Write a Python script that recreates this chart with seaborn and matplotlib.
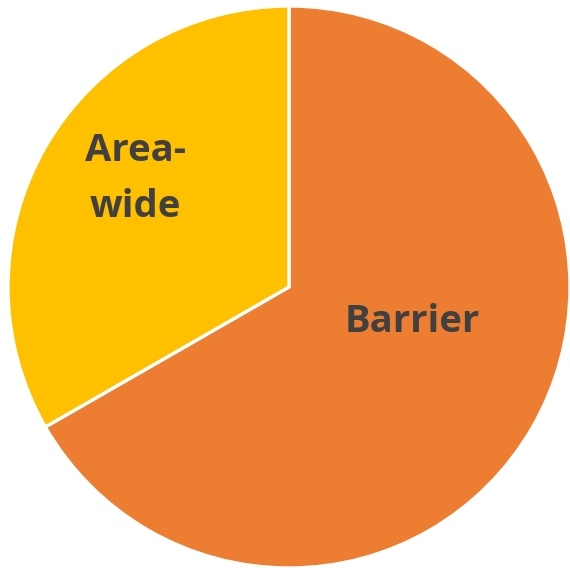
import matplotlib
matplotlib.use("Agg")
import matplotlib.pyplot as plt
import seaborn as sns

sns.set_theme(style="white")
plt.rcParams['font.family'] = ['Open Sans', 'DejaVu Sans']

categories = ["Barrier", "Area-wide"]
shares = [66.7, 33.3]
colors = ["#ED7D31", "#FFC000"]
label_text = ["Barrier", "Area-\nwide"]

fig = plt.figure(figsize=(5.70, 5.68), dpi=100)
ax = fig.add_axes([0, 0, 1, 1])
ax.pie(shares, colors=colors, startangle=90, counterclock=False,
       wedgeprops=dict(edgecolor="white", linewidth=2.4))

# label placement inside each wedge
label_pos = [(0.44, -0.125), (-0.545, 0.385)]
for txt, (x, y) in zip(label_text, label_pos):
    ax.text(x, y, txt, ha="center", va="center", fontsize=27.5,
            fontweight="bold", color="#404040", linespacing=1.6)

ax.set_xlim(-289 / 281, (570 - 289) / 281)
ax.set_ylim(-(568 - 287) / 281, 287 / 281)
ax.set_aspect("auto")
ax.axis("off")
fig.savefig("out.png", dpi=100, facecolor="white")
